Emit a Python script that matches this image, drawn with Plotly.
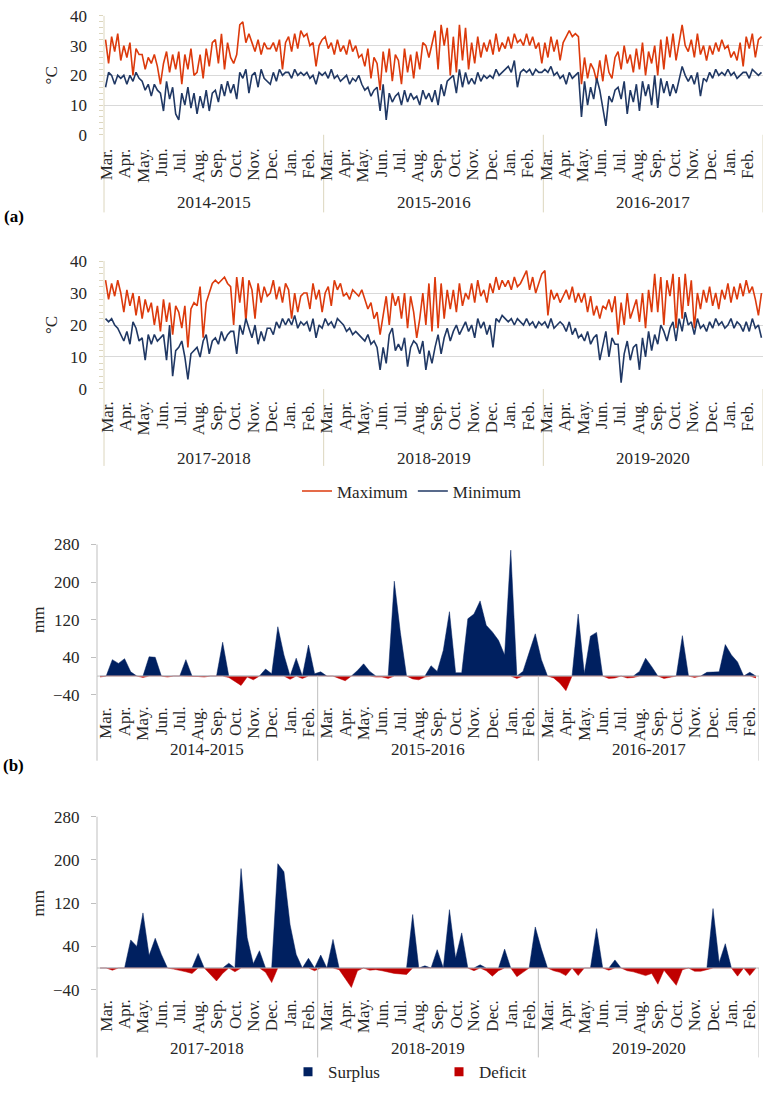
import plotly.graph_objects as go

# ---------------------------------------------------------------------------
# Design tokens
# ---------------------------------------------------------------------------

W, H = 767, 1093
FONT = "'Liberation Serif', 'Times New Roman', serif"
TXT = "#262626"
RED = "#DC3A0C"
NAVY = "#203864"
SURPLUS_C = "#002060"
DEFICIT_C = "#C00000"
GRID = "#D9D9D9"
BEIGE = "#DCD6BE"
GRAY = "#BFBFBF"

# ---------------------------------------------------------------------------
# Data
# ---------------------------------------------------------------------------

MONTHS = ["Mar.", "Apr.", "May.", "Jun.", "Jul.", "Aug.",
          "Sep.", "Oct.", "Nov.", "Dec.", "Jan.", "Feb."]
SEASONS_A = ["2014-2015", "2015-2016", "2016-2017"]
SEASONS_B = ["2017-2018", "2018-2019", "2019-2020"]

# daily temperature, sampled ~every 5 days (6 values per month), Mar 2014 - Feb 2017
TMAX_A = [
    32, 24, 33, 28, 34, 25,
    30, 26, 31, 20, 29, 27,
    27, 22, 26, 24, 27, 23,
    17, 24, 28, 21, 27, 22,
    28, 17, 27, 22, 29, 20,
    21, 27, 19, 29, 23, 31,
    32, 24, 34, 22, 31, 26,
    24, 27, 37, 38, 31, 34,
    31, 28, 32, 27, 31, 29,
    29, 31, 28, 32, 22, 31,
    33, 28, 34, 29, 35, 33,
    34, 30, 31, 23, 30, 32,
    33, 29, 31, 27, 32, 28,
    30, 27, 32, 28, 30, 26,
    27, 23, 29, 19, 26, 24,
    15, 28, 21, 29, 18, 27,
    25, 17, 29, 21, 27, 19,
    28, 22, 31, 30, 26, 31,
    35, 22, 37, 30, 36, 20,
    33, 21, 37, 25, 36, 22,
    31, 24, 33, 26, 31, 28,
    32, 27, 34, 28, 31, 29,
    33, 29, 34, 31, 32, 30,
    34, 30, 33, 29, 31, 24,
    31, 26, 33, 28, 32, 25,
    31, 33, 35, 33, 34, 33,
    17, 26, 19, 24, 22, 18,
    25, 18, 27, 21, 19, 26,
    28, 22, 30, 24, 27, 21,
    29, 22, 31, 20, 28, 24,
    30, 20, 32, 22, 33, 26,
    34, 25, 31, 37, 30, 28,
    32, 26, 34, 27, 30, 25,
    30, 27, 31, 28, 32, 29,
    30, 26, 28, 25, 31, 23,
    33, 29, 34, 26, 32, 33,
]
TMIN_A = [
    16, 21, 20, 17, 20, 19,
    20, 17, 20, 18, 21, 19,
    18, 15, 17, 13, 17, 15,
    14, 8, 18, 12, 16, 7,
    5, 14, 10, 16, 9, 14,
    7, 13, 9, 15, 8, 14,
    15, 11, 17, 13, 18, 14,
    17, 12, 21, 19, 22, 14,
    20, 21, 16, 22, 19, 18,
    17, 21, 18, 22, 20, 21,
    21, 19, 22, 20, 21, 20,
    21, 19, 20, 17, 21, 20,
    21, 19, 22, 19, 20, 18,
    19, 20, 17, 19, 18, 20,
    17, 15, 16, 13, 15, 16,
    8, 17, 5, 14, 11, 13,
    14, 10, 15, 11, 14, 12,
    13, 10, 15, 12, 14, 11,
    15, 10, 17, 13, 18, 19,
    20, 14, 22, 16, 21, 17,
    19, 17, 21, 18, 20, 19,
    20, 19, 22, 20, 21, 22,
    23, 21, 25, 16, 21, 22,
    21, 22, 20, 22, 21, 21,
    22, 21, 23, 20, 21, 19,
    20, 17, 21, 19, 20, 21,
    6, 18, 10, 16, 12, 19,
    15, 9, 3, 13, 11, 15,
    16, 12, 18, 7, 15, 11,
    17, 8, 18, 13, 17, 10,
    20, 9, 19, 14, 18, 13,
    17, 14, 19, 23, 20, 18,
    20, 17, 21, 13, 19, 18,
    21, 19, 22, 20, 21, 20,
    22, 20, 21, 19, 20, 21,
    21, 19, 22, 21, 20, 21,
]

# Mar 2017 - Feb 2020
TMAX_B = [
    34, 28, 33, 29, 34, 30,
    24, 31, 26, 30, 23, 29,
    22, 28, 24, 27, 20, 26,
    18, 28, 21, 27, 17, 26,
    24, 19, 26, 13, 25, 27,
    26, 32, 16, 27, 30, 33,
    34, 33, 34, 35, 33, 32,
    20, 35, 27, 35, 21, 34,
    31, 22, 33, 27, 32, 29,
    30, 34, 28, 32, 27, 33,
    31, 22, 30, 24, 29, 30,
    30, 25, 33, 28, 31, 24,
    30, 32, 26, 34, 31, 33,
    29, 30, 28, 31, 30, 29,
    31, 28, 25, 27, 22, 24,
    17, 23, 29, 20, 30, 26,
    29, 22, 30, 19, 29, 24,
    16, 22, 30, 20, 33, 18,
    35, 19, 33, 22, 31, 25,
    31, 24, 33, 26, 30, 28,
    33, 27, 34, 29, 31, 27,
    33, 30, 35, 31, 34, 32,
    34, 31, 35, 32, 33, 35,
    37, 31, 35, 30, 33, 36,
    37, 23, 31, 28, 30, 27,
    29, 31, 28, 32, 27, 30,
    27, 30, 24, 29, 23, 26,
    22, 26, 25, 28, 24, 29,
    17, 27, 20, 30, 22, 25,
    28, 21, 30, 19, 31, 24,
    36, 24, 35, 20, 34, 29,
    36, 19, 35, 22, 36, 26,
    34, 19, 30, 25, 31, 27,
    32, 26, 30, 25, 31, 28,
    33, 27, 32, 28, 33, 29,
    34, 30, 32, 28, 23, 30,
]
TMIN_B = [
    22, 21, 22, 20, 19, 17,
    15, 18, 14, 21, 19, 15,
    16, 9, 17, 14, 17, 15,
    16, 17, 9, 20, 4, 12,
    13, 15, 10, 3, 11, 12,
    13, 10, 15, 17, 11, 15,
    16, 14, 18, 15, 17, 18,
    18, 11, 20, 17, 22, 19,
    16, 20, 14, 18, 15, 19,
    19, 17, 21, 19, 22, 20,
    22, 20, 23, 19, 21, 20,
    21, 18, 22, 16, 20, 19,
    22, 20, 21, 19, 22, 21,
    20, 18, 19, 17, 18, 17,
    16, 15, 17, 14, 15, 13,
    6, 13, 8, 17, 19, 12,
    14, 12, 16, 7, 13, 15,
    14, 11, 15, 6, 12, 8,
    13, 17, 11, 16, 19, 15,
    18, 20, 17, 19, 21, 18,
    20, 16, 22, 19, 21, 17,
    20, 13, 22, 21, 23, 22,
    21, 22, 20, 22, 21, 20,
    22, 20, 21, 19, 21, 20,
    21, 19, 22, 19, 20, 21,
    20, 18, 21, 17, 19, 16,
    17, 15, 18, 14, 16, 17,
    9, 13, 18, 10, 16, 14,
    14, 2, 11, 15, 9, 13,
    14, 6, 16, 10, 18, 12,
    17, 14, 20, 18, 15, 19,
    21, 15, 22, 18, 24, 20,
    21, 17, 22, 19, 20, 18,
    21, 19, 22, 20, 21, 19,
    20, 22, 19, 21, 20, 18,
    21, 18, 22, 19, 20, 16,
]

# water balance per 10-day period (3 per month), mm
SURPLUS_A = [
    0, 0, 35, 27, 37, 9, 0, 0, 41, 40, 0, 0, 0, 0, 35, 0, 0, 0,
    0, 0, 72, 0, 0, 0, 0, 0, 0, 15, 5, 105, 45, 0, 38, 0, 66, 5,
    9, 0, 0, 0, 0, 0, 12, 26, 10, 0, 0, 0, 202, 92, 0, 0, 0, 0,
    22, 10, 55, 137, 7, 7, 122, 132, 160, 108, 94, 76, 45, 268, 0, 10, 50, 90,
    35, 0, 0, 0, 0, 0, 132, 5, 85, 93, 0, 0, 0, 0, 0, 0, 10, 38,
    20, 0, 0, 0, 0, 86, 0, 0, 0, 8, 9, 9, 67, 45, 30, 0, 8, 0,
]
DEFICIT_A = [
    -2, 0, 0, 0, 0, 0, 0, -3, 0, 0, 0, -2, 0, 0, 0, 0, -1, -2,
    0, 0, 0, -3, -11, -20, -2, -8, 0, 0, 0, 0, 0, -7, 0, -5, 0, 0,
    0, 0, 0, -5, -10, 0, 0, 0, 0, -2, -2, -5, 0, 0, 0, -6, -8, -2,
    0, 0, 0, 0, 0, 0, 0, 0, 0, 0, 0, 0, 0, 0, -5, 0, 0, 0,
    0, 0, -4, -15, -31, 0, 0, 0, 0, 0, 0, -5, -4, 0, -4, -3, 0, 0,
    0, 0, -5, -3, 0, 0, 0, -3, 0, 0, 0, 0, 0, 0, 0, 0, 0, -4,
]
SURPLUS_B = [
    0, 0, 0, 0, 0, 52, 40, 102, 23, 55, 25, 0, 0, 0, 0, 0, 27, 0,
    0, 0, 0, 9, 0, 184, 56, 8, 32, 0, 0, 193, 178, 80, 25, 0, 18, 0,
    24, 0, 53, 0, 0, 0, 0, 0, 0, 0, 0, 0, 0, 0, 0, 99, 0, 4,
    0, 34, 0, 108, 18, 65, 0, 0, 6, 0, 0, 0, 35, 0, 0, 0, 0, 76,
    35, 0, 0, 0, 0, 0, 0, 0, 0, 73, 0, 0, 15, 0, 0, 0, 0, 0,
    0, 0, 0, 0, 0, 0, 0, 0, 0, 0, 110, 10, 45, 0, 0, 0, 0, 0,
]
DEFICIT_B = [
    0, 0, -4, 0, 0, 0, 0, 0, 0, 0, 0, 0, -2, -4, -7, -10, 0, 0,
    -12, -24, -10, 0, -7, 0, 0, 0, 0, -8, -27, 0, 0, 0, 0, 0, 0, -5,
    0, 0, 0, -3, -20, -36, -5, 0, -4, -3, -5, -8, -10, -11, -12, 0, 0, 0,
    0, 0, 0, 0, 0, 0, 0, -5, 0, -5, -15, -5, 0, 0, -16, -8, 0, 0,
    0, 0, -5, -8, -14, 0, -14, 0, 0, 0, 0, -4, 0, 0, -5, -7, -10, -14,
    -10, -30, -4, -18, -32, -3, 0, -6, -6, -3, 0, 0, 0, 0, -15, 0, -14, 0,
]

# ---------------------------------------------------------------------------
# Helpers
# ---------------------------------------------------------------------------

def fx(p):
    return p / W


def fy(p):
    return 1 - p / H


T_X = [(i + 0.5) / 6 for i in range(len(TMAX_A))]
B_X = [(i + 0.5) / 3 for i in range(len(SURPLUS_A))]

TEMP_PANELS = [
    dict(ax="", top=7, zero=128, lab=140, yr=197, bot=207,
         tmax=TMAX_A, tmin=TMIN_A, seasons=SEASONS_A, legend=True),
    dict(ax="2", top=256.5, zero=386.7, lab=397, yr=457, bot=465,
         tmax=TMAX_B, tmin=TMIN_B, seasons=SEASONS_B, legend=False),
]
BAL_PANELS = [
    dict(ax="3", top=545, zero=678.6, bottom=698, lab=708, yr=754, bot=765,
         sur=SURPLUS_A, def_=DEFICIT_A, seasons=SEASONS_A),
    dict(ax="4", top=822, zero=976, bottom=998, lab=1006, yr=1058, bot=1067,
         sur=SURPLUS_B, def_=DEFICIT_B, seasons=SEASONS_B),
]
TL, TR = 104, 763
BL, BR = 97, 759

fig = go.Figure()
layout = {}
shapes, annotations = [], []
tick_font = dict(family=FONT, size=17, color=TXT)


def category_axis(ax, left, right, zero_px, lab, yr, bot, seasons, offset, color):
    xa = "x" + ax
    # y-axis line below zero, year dividers and right edge
    shapes.append(dict(type="line", xref="paper", yref="paper",
                       x0=fx(left), x1=fx(left), y0=fy(zero_px), y1=fy(bot),
                       line=dict(color=color, width=1)))
    for m in (12, 24, 36):
        shapes.append(dict(type="line", xref=xa, yref="paper", x0=m, x1=m,
                           y0=fy(zero_px), y1=fy(bot),
                           line=dict(color=color, width=1)))
    for i in range(36):
        annotations.append(dict(
            text=MONTHS[i % 12], xref=xa, yref="paper", x=i + offset, y=fy(lab),
            xanchor="center", yanchor="top", textangle=-90, showarrow=False,
            font=tick_font,
        ))
    for j, s in enumerate(seasons):
        annotations.append(dict(
            text=s, xref=xa, yref="paper", x=12 * j + 6, y=fy(yr),
            xanchor="center", yanchor="middle", showarrow=False, font=tick_font,
        ))


# ---------------------------------------------------------------------------
# Temperature panels
# ---------------------------------------------------------------------------

for p in TEMP_PANELS:
    ax = p["ax"]
    fig.add_trace(go.Scatter(
        x=T_X, y=p["tmax"], mode="lines", name="Maximum",
        line=dict(color=RED, width=1.6), xaxis="x" + ax, yaxis="y" + ax,
        showlegend=p["legend"], legend="legend",
    ))
    fig.add_trace(go.Scatter(
        x=T_X, y=p["tmin"], mode="lines", name="Minimum",
        line=dict(color=NAVY, width=1.6), xaxis="x" + ax, yaxis="y" + ax,
        showlegend=p["legend"], legend="legend",
    ))
    layout["xaxis" + ax] = dict(
        domain=[fx(TL), fx(TR)], range=[0, 36], anchor="y" + ax,
        showticklabels=False, showgrid=False, zeroline=False, showline=False,
        ticks="",
    )
    layout["yaxis" + ax] = dict(
        domain=[fy(p["zero"]), fy(p["top"])], range=[0, 40], anchor="x" + ax,
        tickvals=[0, 10, 20, 30, 40], showgrid=True, gridcolor=GRID, gridwidth=1,
        zeroline=False, showline=False, ticks="", ticklabelstandoff=16,
        minor=dict(ticks="outside", dtick=2, ticklen=4, tickcolor=BEIGE,
                   showgrid=False),
        tickfont=tick_font,
        title=dict(text="°C", font=tick_font, standoff=8),
    )
    shapes.append(dict(type="line", xref="paper", yref="paper",
                       x0=fx(TL), x1=fx(TL), y0=fy(p["top"]), y1=fy(p["zero"]),
                       line=dict(color=BEIGE, width=1)))
    category_axis(ax, TL, TR, p["zero"], p["lab"], p["yr"], p["bot"],
                  p["seasons"], 0.15, BEIGE)

# ---------------------------------------------------------------------------
# Water balance panels
# ---------------------------------------------------------------------------

for p in BAL_PANELS:
    ax = p["ax"]
    fig.add_trace(go.Scatter(
        x=B_X, y=p["sur"], mode="lines", fill="tozeroy", fillcolor=SURPLUS_C,
        line=dict(color=SURPLUS_C, width=0.5), xaxis="x" + ax, yaxis="y" + ax,
        showlegend=False,
    ))
    fig.add_trace(go.Scatter(
        x=B_X, y=p["def_"], mode="lines", fill="tozeroy", fillcolor=DEFICIT_C,
        line=dict(color=DEFICIT_C, width=0.5), xaxis="x" + ax, yaxis="y" + ax,
        showlegend=False,
    ))
    layout["xaxis" + ax] = dict(
        domain=[fx(BL), fx(BR)], range=[0, 36], anchor="y" + ax,
        showticklabels=False, showgrid=False, zeroline=False, showline=False,
        ticks="",
    )
    layout["yaxis" + ax] = dict(
        domain=[fy(p["bottom"]), fy(p["top"])], range=[-40, 280], anchor="x" + ax,
        tickvals=[-40, 40, 120, 200, 280], showgrid=False, zeroline=False,
        showline=False, ticks="outside", ticklen=5, tickcolor=GRAY,
        ticklabelstandoff=8, tickfont=tick_font,
        title=dict(text="mm", font=tick_font, standoff=4),
    )
    shapes.append(dict(type="line", xref="paper", yref="paper",
                       x0=fx(BL), x1=fx(BL), y0=fy(p["top"]), y1=fy(p["zero"]),
                       line=dict(color=GRAY, width=1)))
    shapes.append(dict(type="line", xref="x" + ax, yref="y" + ax,
                       x0=0, x1=36, y0=0, y1=0, layer="above",
                       line=dict(color=GRAY, width=1)))
    category_axis(ax, BL, BR, p["zero"], p["lab"], p["yr"], p["bot"],
                  p["seasons"], 0.5, GRAY)

# legend markers for the area series
for name, color in (("Surplus", SURPLUS_C), ("Deficit", DEFICIT_C)):
    fig.add_trace(go.Scatter(
        x=[None], y=[None], mode="markers", name=name,
        marker=dict(symbol="square", size=9, color=color),
        xaxis="x4", yaxis="y4", legend="legend2",
    ))

for txt, ypx in (("<b>(a)</b>", 211), ("<b>(b)</b>", 770)):
    annotations.append(dict(text=txt, xref="paper", yref="paper",
                            x=fx(14), y=fy(ypx), xanchor="center", yanchor="middle",
                            showarrow=False,
                            font=dict(family=FONT, size=17, color="#000")))

fig.update_layout(
    **layout,
    width=W, height=H,
    margin=dict(l=0, r=0, t=0, b=0),
    paper_bgcolor="white", plot_bgcolor="white",
    font=dict(family=FONT, size=17, color=TXT),
    shapes=shapes, annotations=annotations,
    legend=dict(orientation="h", x=fx(297), xanchor="left", y=fy(491),
                yanchor="middle", font=tick_font, bgcolor="rgba(0,0,0,0)",
                itemwidth=30, tracegroupgap=0),
    legend2=dict(orientation="h", x=fx(288), xanchor="left", y=fy(1082),
                 yanchor="middle", font=tick_font, bgcolor="rgba(0,0,0,0)",
                 entrywidth=106),
)

fig.write_html("out.html", config={"displayModeBar": False},
               post_script="document.body.style.margin='0';")
